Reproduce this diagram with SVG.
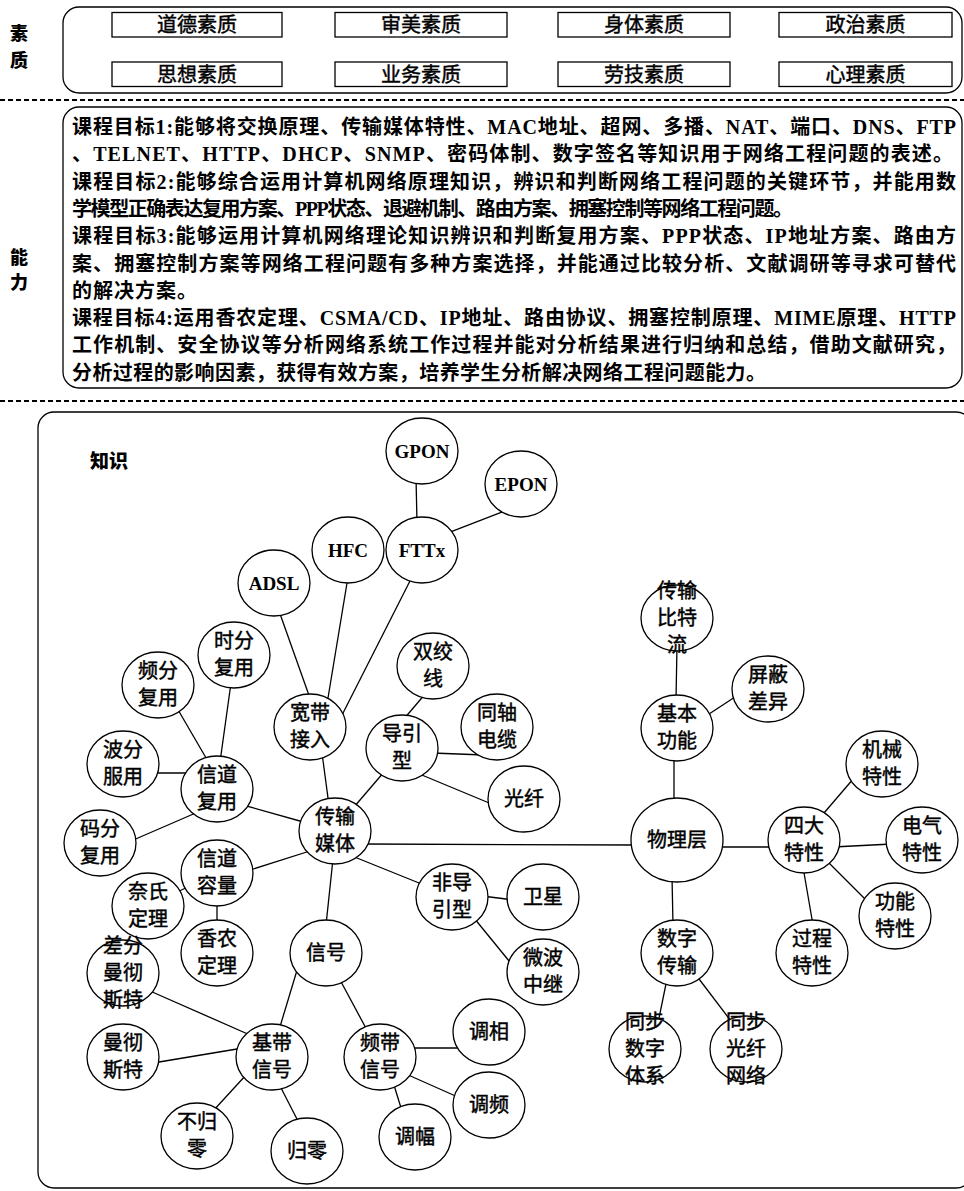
<svg xmlns="http://www.w3.org/2000/svg" width="964" height="1191" viewBox="0 0 964 1191">
<style>
.frame{fill:none;stroke:#000;stroke-width:1.3}
.box{fill:#fff;stroke:#000;stroke-width:1.3}
.q{font-family:"Noto Sans CJK SC",sans-serif;font-size:20px;text-anchor:middle;stroke:#000;stroke-width:0.45}
.lab{font-family:"Noto Sans CJK SC",sans-serif;font-weight:900;font-size:18px;text-anchor:middle}
.goal{font-family:"Liberation Serif","Noto Sans CJK SC",serif;font-weight:bold;font-size:20px}
.dash{stroke:#000;stroke-width:2;stroke-dasharray:5 3}
#edges line{stroke:#000;stroke-width:1.3}
.n ellipse{fill:#fff;stroke:#000;stroke-width:1.3}
.t{font-family:"Noto Sans CJK SC",sans-serif;font-size:20px;text-anchor:middle;stroke:#000;stroke-width:0.45}
.tl{font-family:"Liberation Serif",serif;font-weight:bold;font-size:19px;text-anchor:middle}
</style>

<!-- quality section -->
<g id="quality">
<text class="lab" x="19" y="40">素</text>
<text class="lab" x="19" y="67">质</text>
<rect class="frame" x="63" y="7" width="899" height="86" rx="16"/>
<g id="q1"><rect class="box" x="112" y="12.5" width="170" height="24.5"/><text class="q" x="197" y="32">道德素质</text></g>
<g id="q2"><rect class="box" x="335" y="12.5" width="172" height="24.5"/><text class="q" x="421" y="32">审美素质</text></g>
<g id="q3"><rect class="box" x="558" y="12.5" width="172" height="24.5"/><text class="q" x="644" y="32">身体素质</text></g>
<g id="q4"><rect class="box" x="779" y="12.5" width="173" height="24.5"/><text class="q" x="865.5" y="32">政治素质</text></g>
<g id="q5"><rect class="box" x="112" y="62" width="170" height="24.5"/><text class="q" x="197" y="82">思想素质</text></g>
<g id="q6"><rect class="box" x="335" y="62" width="172" height="24.5"/><text class="q" x="421" y="82">业务素质</text></g>
<g id="q7"><rect class="box" x="558" y="62" width="172" height="24.5"/><text class="q" x="644" y="82">劳技素质</text></g>
<g id="q8"><rect class="box" x="779" y="62" width="173" height="24.5"/><text class="q" x="865.5" y="82">心理素质</text></g>
</g>

<line class="dash" x1="0" y1="100" x2="964" y2="100"/>

<!-- ability section -->
<g id="ability">
<text class="lab" x="19" y="264">能</text>
<text class="lab" x="19" y="289">力</text>
<rect class="frame" x="63" y="107" width="899" height="281" rx="16"/>
<text class="goal" x="72" y="134" textLength="884" lengthAdjust="spacing">课程目标1:能够将交换原理、传输媒体特性、MAC地址、超网、多播、NAT、端口、DNS、FTP</text>
<text class="goal" x="72" y="161.3" textLength="881" lengthAdjust="spacing">、TELNET、HTTP、DHCP、SNMP、密码体制、数字签名等知识用于网络工程问题的表述。</text>
<text class="goal" x="72" y="188.6" textLength="884" lengthAdjust="spacing">课程目标2:能够综合运用计算机网络原理知识，辨识和判断网络工程问题的关键环节，并能用数</text>
<text class="goal" x="72" y="215.9" textLength="721" lengthAdjust="spacing">学模型正确表达复用方案、PPP状态、退避机制、路由方案、拥塞控制等网络工程问题。</text>
<text class="goal" x="72" y="243.2" textLength="884" lengthAdjust="spacing">课程目标3:能够运用计算机网络理论知识辨识和判断复用方案、PPP状态、IP地址方案、路由方</text>
<text class="goal" x="72" y="270.5" textLength="884" lengthAdjust="spacing">案、拥塞控制方案等网络工程问题有多种方案选择，并能通过比较分析、文献调研等寻求可替代</text>
<text class="goal" x="72" y="297.8" textLength="125" lengthAdjust="spacing">的解决方案。</text>
<text class="goal" x="72" y="325.1" textLength="884" lengthAdjust="spacing">课程目标4:运用香农定理、CSMA/CD、IP地址、路由协议、拥塞控制原理、MIME原理、HTTP</text>
<text class="goal" x="72" y="352.4" textLength="884" lengthAdjust="spacing">工作机制、安全协议等分析网络系统工作过程并能对分析结果进行归纳和总结，借助文献研究，</text>
<text class="goal" x="72" y="379.7" textLength="694" lengthAdjust="spacing">分析过程的影响因素，获得有效方案，培养学生分析解决网络工程问题能力。</text>
</g>

<line class="dash" x1="0" y1="401" x2="964" y2="401"/>

<!-- knowledge section -->
<rect class="frame" x="38" y="412" width="934" height="776" rx="16"/>
<text class="lab" x="109" y="468" style="font-size:19px">知识</text>

<g id="edges">
<line x1="416" y1="477" x2="417" y2="523"/>
<line x1="507.6" y1="509.8" x2="447.4" y2="533.2"/>
<line x1="279" y1="611" x2="311" y2="701"/>
<line x1="348" y1="577" x2="327" y2="704"/>
<line x1="412" y1="577" x2="340" y2="719"/>
<line x1="231" y1="683" x2="220" y2="762"/>
<line x1="177" y1="708" x2="209" y2="763"/>
<line x1="426" y1="693" x2="403" y2="720"/>
<line x1="432" y1="753" x2="484" y2="755"/>
<line x1="417" y1="773" x2="494" y2="805"/>
<line x1="153" y1="773" x2="189" y2="773"/>
<line x1="322" y1="753" x2="330" y2="813"/>
<line x1="384" y1="772" x2="354" y2="807"/>
<line x1="243" y1="805" x2="307" y2="823"/>
<line x1="131" y1="841" x2="198" y2="812"/>
<line x1="247" y1="871" x2="313" y2="850"/>
<line x1="364" y1="844" x2="637" y2="845"/>
<line x1="352" y1="856" x2="424" y2="885"/>
<line x1="333" y1="859" x2="326" y2="925"/>
<line x1="148" y1="906" x2="217" y2="873"/>
<line x1="217" y1="873" x2="217" y2="953"/>
<line x1="482" y1="896" x2="514" y2="900"/>
<line x1="474" y1="918" x2="514" y2="967"/>
<line x1="298" y1="967" x2="279" y2="1030"/>
<line x1="339" y1="978" x2="368" y2="1032"/>
<line x1="150" y1="991" x2="250" y2="1035"/>
<line x1="153" y1="1063" x2="243" y2="1048"/>
<line x1="246" y1="1075" x2="213" y2="1111"/>
<line x1="279" y1="1084" x2="299" y2="1123"/>
<line x1="409" y1="1048" x2="460" y2="1048"/>
<line x1="406" y1="1074" x2="460" y2="1098"/>
<line x1="393" y1="1082" x2="402" y2="1111"/>
<line x1="677" y1="645" x2="676" y2="700"/>
<line x1="706" y1="716" x2="738" y2="695"/>
<line x1="674" y1="755" x2="674" y2="804"/>
<line x1="818" y1="820" x2="854" y2="778"/>
<line x1="716" y1="847" x2="774" y2="847"/>
<line x1="833" y1="847" x2="892" y2="844"/>
<line x1="827" y1="861" x2="868" y2="902"/>
<line x1="803" y1="867" x2="813" y2="925"/>
<line x1="672" y1="876" x2="673" y2="925"/>
<line x1="667" y1="979" x2="658" y2="1023"/>
<line x1="696" y1="975" x2="734" y2="1025"/>
</g>

<g id="n-gpon" class="n"><ellipse cx="422" cy="451" rx="36" ry="33"/><text class="tl" x="422" y="457.5">GPON</text></g>
<g id="n-epon" class="n"><ellipse cx="521" cy="484" rx="36" ry="33"/><text class="tl" x="521" y="490.5">EPON</text></g>
<g id="n-hfc" class="n"><ellipse cx="348" cy="550" rx="36" ry="33"/><text class="tl" x="348" y="556.5">HFC</text></g>
<g id="n-fttx" class="n"><ellipse cx="422" cy="550" rx="36" ry="33"/><text class="tl" x="422" y="556.5">FTTx</text></g>
<g id="n-adsl" class="n"><ellipse cx="274" cy="583" rx="36" ry="33"/><text class="tl" x="274" y="589.5">ADSL</text></g>
<g id="n-shifen" class="n"><ellipse cx="234" cy="655" rx="36" ry="33"/><text class="t" x="234" y="648">时分</text><text class="t" x="234" y="675">复用</text></g>
<g id="n-pinfen" class="n"><ellipse cx="158" cy="685" rx="36" ry="33"/><text class="t" x="158" y="678">频分</text><text class="t" x="158" y="705">复用</text></g>
<g id="n-shuangjiao" class="n"><ellipse cx="433" cy="666" rx="36" ry="33"/><text class="t" x="433" y="659">双绞</text><text class="t" x="433" y="686">线</text></g>
<g id="n-kuandai" class="n"><ellipse cx="310" cy="727" rx="36" ry="33"/><text class="t" x="310" y="720">宽带</text><text class="t" x="310" y="747">接入</text></g>
<g id="n-tongzhou" class="n"><ellipse cx="497" cy="727" rx="36" ry="33"/><text class="t" x="497" y="720">同轴</text><text class="t" x="497" y="747">电缆</text></g>
<g id="n-daoyin" class="n"><ellipse cx="402" cy="748" rx="36" ry="33"/><text class="t" x="402" y="741">导引</text><text class="t" x="402" y="768">型</text></g>
<g id="n-bofen" class="n"><ellipse cx="123" cy="764" rx="36" ry="33"/><text class="t" x="123" y="757">波分</text><text class="t" x="123" y="784">服用</text></g>
<g id="n-xindaofy" class="n"><ellipse cx="217" cy="789" rx="36" ry="33"/><text class="t" x="217" y="782">信道</text><text class="t" x="217" y="809">复用</text></g>
<g id="n-guangxian" class="n"><ellipse cx="524" cy="799" rx="36" ry="33"/><text class="t" x="524" y="806">光纤</text></g>
<g id="n-media" class="n"><ellipse cx="335" cy="831" rx="36" ry="33"/><text class="t" x="335" y="824">传输</text><text class="t" x="335" y="851">媒体</text></g>
<g id="n-mafen" class="n"><ellipse cx="100" cy="843" rx="36" ry="33"/><text class="t" x="100" y="836">码分</text><text class="t" x="100" y="863">复用</text></g>
<g id="n-rongliang" class="n"><ellipse cx="217" cy="873" rx="36" ry="33"/><text class="t" x="217" y="866">信道</text><text class="t" x="217" y="893">容量</text></g>
<g id="n-feidaoyin" class="n"><ellipse cx="452" cy="897" rx="36" ry="33"/><text class="t" x="452" y="890">非导</text><text class="t" x="452" y="917">引型</text></g>
<g id="n-weixing" class="n"><ellipse cx="543" cy="897" rx="36" ry="33"/><text class="t" x="543" y="904">卫星</text></g>
<g id="n-naishi" class="n"><ellipse cx="148" cy="906" rx="36" ry="33"/><text class="t" x="148" y="899">奈氏</text><text class="t" x="148" y="926">定理</text></g>
<g id="n-xiangnong" class="n"><ellipse cx="217" cy="953" rx="36" ry="33"/><text class="t" x="217" y="946">香农</text><text class="t" x="217" y="973">定理</text></g>
<g id="n-xinhao" class="n"><ellipse cx="326" cy="953" rx="36" ry="33"/><text class="t" x="326" y="960">信号</text></g>
<g id="n-weibo" class="n"><ellipse cx="543" cy="972" rx="36" ry="33"/><text class="t" x="543" y="965">微波</text><text class="t" x="543" y="992">中继</text></g>
<g id="n-chafen" class="n"><ellipse cx="123" cy="973" rx="36" ry="33"/><text class="t" x="123" y="953">差分</text><text class="t" x="123" y="980">曼彻</text><text class="t" x="123" y="1007">斯特</text></g>
<g id="n-manche" class="n"><ellipse cx="123" cy="1057" rx="36" ry="33"/><text class="t" x="123" y="1050">曼彻</text><text class="t" x="123" y="1077">斯特</text></g>
<g id="n-jidai" class="n"><ellipse cx="272" cy="1057" rx="36" ry="33"/><text class="t" x="272" y="1050">基带</text><text class="t" x="272" y="1077">信号</text></g>
<g id="n-pindai" class="n"><ellipse cx="380" cy="1057" rx="36" ry="33"/><text class="t" x="380" y="1050">频带</text><text class="t" x="380" y="1077">信号</text></g>
<g id="n-tiaoxiang" class="n"><ellipse cx="489" cy="1032" rx="36" ry="33"/><text class="t" x="489" y="1039">调相</text></g>
<g id="n-tiaopin" class="n"><ellipse cx="489" cy="1105" rx="36" ry="33"/><text class="t" x="489" y="1112">调频</text></g>
<g id="n-tiaofu" class="n"><ellipse cx="415" cy="1137" rx="36" ry="33"/><text class="t" x="415" y="1144">调幅</text></g>
<g id="n-buguiling" class="n"><ellipse cx="197" cy="1136" rx="36" ry="33"/><text class="t" x="197" y="1129">不归</text><text class="t" x="197" y="1156">零</text></g>
<g id="n-guiling" class="n"><ellipse cx="307" cy="1151" rx="36" ry="33"/><text class="t" x="307" y="1158">归零</text></g>
<g id="n-bitstream" class="n"><ellipse cx="677" cy="618" rx="36" ry="33"/><text class="t" x="677" y="598">传输</text><text class="t" x="677" y="625">比特</text><text class="t" x="677" y="652">流</text></g>
<g id="n-pingbi" class="n"><ellipse cx="768" cy="689" rx="36" ry="33"/><text class="t" x="768" y="682">屏蔽</text><text class="t" x="768" y="709">差异</text></g>
<g id="n-jiben" class="n"><ellipse cx="677" cy="728" rx="36" ry="33"/><text class="t" x="677" y="721">基本</text><text class="t" x="677" y="748">功能</text></g>
<g id="n-jixie" class="n"><ellipse cx="882" cy="764" rx="36" ry="33"/><text class="t" x="882" y="757">机械</text><text class="t" x="882" y="784">特性</text></g>
<g id="n-wuli" class="n"><ellipse cx="677" cy="840" rx="46" ry="42"/><text class="t" x="677" y="847">物理层</text></g>
<g id="n-sida" class="n"><ellipse cx="804" cy="840" rx="36" ry="33"/><text class="t" x="804" y="833">四大</text><text class="t" x="804" y="860">特性</text></g>
<g id="n-dianqi" class="n"><ellipse cx="922" cy="840" rx="36" ry="33"/><text class="t" x="922" y="833">电气</text><text class="t" x="922" y="860">特性</text></g>
<g id="n-gongneng" class="n"><ellipse cx="895" cy="916" rx="36" ry="33"/><text class="t" x="895" y="909">功能</text><text class="t" x="895" y="936">特性</text></g>
<g id="n-shuzi" class="n"><ellipse cx="677" cy="953" rx="36" ry="33"/><text class="t" x="677" y="946">数字</text><text class="t" x="677" y="973">传输</text></g>
<g id="n-guocheng" class="n"><ellipse cx="812" cy="953" rx="36" ry="33"/><text class="t" x="812" y="946">过程</text><text class="t" x="812" y="973">特性</text></g>
<g id="n-sdh" class="n"><ellipse cx="645" cy="1049" rx="36" ry="33"/><text class="t" x="645" y="1029">同步</text><text class="t" x="645" y="1056">数字</text><text class="t" x="645" y="1083">体系</text></g>
<g id="n-sonet" class="n"><ellipse cx="746" cy="1049" rx="36" ry="33"/><text class="t" x="746" y="1029">同步</text><text class="t" x="746" y="1056">光纤</text><text class="t" x="746" y="1083">网络</text></g>
</svg>
